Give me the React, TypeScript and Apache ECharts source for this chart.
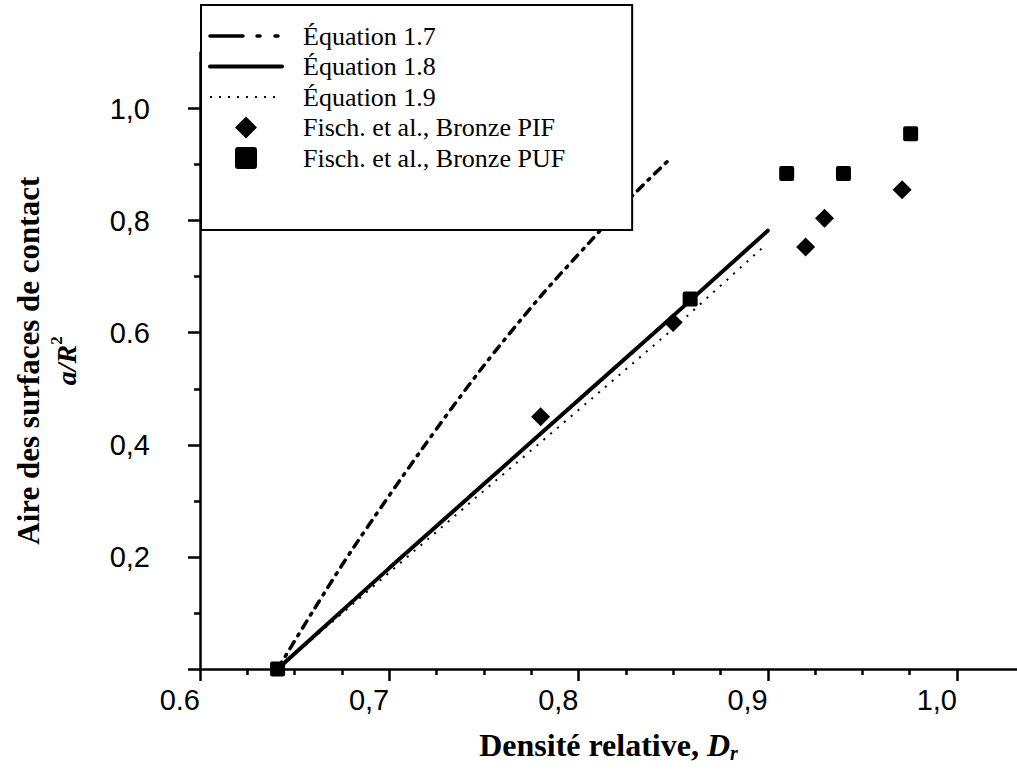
import * as echarts from "echarts";
import { useEffect, useRef } from "react";

// ---- data ----
const X_MIN = 0.6;
const X_MAX = 1.0317;
const Y_MIN = 0;
const Y_MAX = 1.1;
const X_MAJOR = [0.6, 0.7, 0.8, 0.9, 1.0];
const X_MINOR = [0.625, 0.65, 0.675, 0.725, 0.75, 0.775, 0.825, 0.85, 0.875, 0.925, 0.95, 0.975];
const Y_MAJOR = [0, 0.2, 0.4, 0.6, 0.8, 1.0];
const Y_LABELS = [0.2, 0.4, 0.6, 0.8, 1.0];
const Y_MINOR = [0.1, 0.3, 0.5, 0.7, 0.9];

const SERIES_NAMES = [
  "Équation 1.7",
  "Équation 1.8",
  "Équation 1.9",
  "Fisch. et al., Bronze PIF",
  "Fisch. et al., Bronze PUF",
];

const EQ17_DR = [0.641, 0.66, 0.681, 0.717, 0.749, 0.78, 0.806, 0.829, 0.848];
const EQ17_A = [0, 0.105, 0.216, 0.391, 0.537, 0.665, 0.762, 0.846, 0.909];

const EQ18_DR = [0.641, 0.7, 0.75, 0.8, 0.85, 0.9];
const EQ18_A = [0, 0.18, 0.33, 0.48, 0.63, 0.782];

const EQ19_DR = [0.641, 0.7, 0.75, 0.8, 0.85, 0.898];
const EQ19_A = [0, 0.172, 0.318, 0.462, 0.607, 0.754];

const PIF_DR = [0.78, 0.85, 0.92, 0.93, 0.971];
const PIF_A = [0.45, 0.618, 0.753, 0.804, 0.855];

const PUF_DR = [0.641, 0.859, 0.91, 0.94, 0.9755];
const PUF_A = [0, 0.66, 0.884, 0.884, 0.955];

const zip = (xs: number[], ys: number[]) => xs.map((x, i) => [x, ys[i]]);

const DIAMOND = "path://M0,-10L10,0L0,10L-10,0Z";
const SQUARE = "path://M2,0H13Q15,0 15,2V13Q15,15 13,15H2Q0,15 0,13V2Q0,0 2,0Z";

const SERIF = "'Liberation Serif', 'Times New Roman', serif";
const SANS = "'Liberation Sans', Arial, sans-serif";

const fmt = (v: number) => (Math.abs(v - 0.6) < 1e-9 ? "0.6" : v.toFixed(1).replace(".", ","));

const HIDDEN_SYMBOL = { color: "rgba(0,0,0,0)", borderColor: "rgba(0,0,0,0)", borderWidth: 0, opacity: 0 };

function buildOption() {
  const axisLineStyle = { color: "#000", width: 2.5 };
  return {
    animation: false,
    backgroundColor: "#fff",
    grid: {
      left: 200,
      right: 0,
      top: 52.45,
      bottom: 101,
      containLabel: false,
      outerBoundsMode: "none",
    },
    legend: {
      left: 201,
      top: 5,
      orient: "vertical",
      backgroundColor: "#fff",
      borderColor: "#000",
      borderWidth: 2,
      borderRadius: 0,
      padding: [18, 67, 59, 7],
      itemGap: 4.5,
      itemWidth: 72,
      itemHeight: 22,
      selectedMode: false,
      textStyle: {
        fontFamily: SERIF,
        fontSize: 26,
        color: "#000",
        padding: [0, 0, 0, 16],
      },
      data: [
        { name: SERIES_NAMES[0], lineStyle: { type: [33, 14, 3, 15, 3, 10], width: 3.5 }, itemStyle: HIDDEN_SYMBOL },
        { name: SERIES_NAMES[1], lineStyle: { width: 4 }, itemStyle: HIDDEN_SYMBOL },
        { name: SERIES_NAMES[2], lineStyle: { type: [2, 7], width: 2 }, itemStyle: HIDDEN_SYMBOL },
        { name: SERIES_NAMES[3] },
        { name: SERIES_NAMES[4] },
      ],
    },
    xAxis: [
      {
        type: "value",
        min: X_MIN,
        max: X_MAX,
        position: "bottom",
        axisLine: { show: true, onZero: false, lineStyle: axisLineStyle },
        axisTick: {
          show: true,
          inside: false,
          length: 12,
          customValues: X_MAJOR,
          lineStyle: { color: "#000", width: 2.5 },
        },
        axisLabel: {
          customValues: X_MAJOR,
          formatter: fmt,
          align: "right",
          margin: 16,
          fontFamily: SANS,
          fontSize: 29,
          color: "#000",
        },
        splitLine: { show: false },
        name: "{b|Densité relative, }{bi|D}{sub|r}",
        nameLocation: "middle",
        nameGap: 60,
        nameTextStyle: {
          rich: {
            b: { fontFamily: SERIF, fontWeight: "bold", fontSize: 32, color: "#000", lineHeight: 32, verticalAlign: "top" },
            bi: { fontFamily: SERIF, fontWeight: "bold", fontStyle: "italic", fontSize: 32, color: "#000", lineHeight: 32, verticalAlign: "top" },
            sub: { fontFamily: SERIF, fontWeight: "bold", fontStyle: "italic", fontSize: 20, color: "#000", lineHeight: 20, verticalAlign: "top", padding: [14, 0, 0, 0] },
          },
        },
      },
      {
        type: "value",
        min: X_MIN,
        max: X_MAX,
        position: "bottom",
        axisLine: { show: false, onZero: false },
        axisTick: {
          show: true,
          inside: false,
          length: 6,
          customValues: X_MINOR,
          lineStyle: { color: "#000", width: 2.5 },
        },
        axisLabel: { show: false },
        splitLine: { show: false },
      },
    ],
    yAxis: [
      {
        type: "value",
        min: Y_MIN,
        max: Y_MAX,
        position: "left",
        axisLine: { show: true, onZero: false, lineStyle: axisLineStyle },
        axisTick: {
          show: true,
          inside: false,
          length: 12,
          customValues: Y_MAJOR,
          lineStyle: { color: "#000", width: 2.5 },
        },
        axisLabel: {
          customValues: Y_LABELS,
          formatter: fmt,
          margin: 50,
          fontFamily: SANS,
          fontSize: 29,
          color: "#000",
        },
        splitLine: { show: false },
        name: "{t|Aire des surfaces de contact}\n{i|a/R}{sup|2}",
        nameLocation: "middle",
        nameRotate: 90,
        nameGap: 116,
        nameTextStyle: {
          align: "center",
          rich: {
            t: { fontFamily: SERIF, fontWeight: "bold", fontSize: 31, color: "#000", lineHeight: 40, align: "center" },
            i: { fontFamily: SERIF, fontWeight: "bold", fontStyle: "italic", fontSize: 28, color: "#000", lineHeight: 36 },
            sup: { fontFamily: SERIF, fontWeight: "bold", fontSize: 17, color: "#000", lineHeight: 17, verticalAlign: "top" },
          },
        },
      },
      {
        type: "value",
        min: Y_MIN,
        max: Y_MAX,
        position: "left",
        axisLine: { show: false, onZero: false },
        axisTick: {
          show: true,
          inside: false,
          length: 6,
          customValues: Y_MINOR,
          lineStyle: { color: "#000", width: 2.5 },
        },
        axisLabel: { show: false },
        splitLine: { show: false },
      },
    ],
    series: [
      {
        name: SERIES_NAMES[0],
        type: "line",
        xAxisIndex: 0,
        yAxisIndex: 0,
        data: zip(EQ17_DR, EQ17_A),
        smooth: 0.3,
        symbol: "none",
        z: 2,
        lineStyle: { color: "#000", width: 3.5, type: [8, 7, 2, 7], cap: "round" },
        itemStyle: { color: "#000" },
      },
      {
        name: SERIES_NAMES[1],
        type: "line",
        xAxisIndex: 0,
        yAxisIndex: 0,
        data: zip(EQ18_DR, EQ18_A),
        symbol: "none",
        z: 2,
        lineStyle: { color: "#000", width: 4, type: "solid", cap: "round" },
        itemStyle: { color: "#000" },
      },
      {
        name: SERIES_NAMES[2],
        type: "line",
        xAxisIndex: 0,
        yAxisIndex: 0,
        data: zip(EQ19_DR, EQ19_A),
        symbol: "none",
        z: 2,
        lineStyle: { color: "#000", width: 2, type: [2, 7] },
        itemStyle: { color: "#000" },
      },
      {
        name: SERIES_NAMES[3],
        type: "scatter",
        xAxisIndex: 0,
        yAxisIndex: 0,
        data: zip(PIF_DR, PIF_A),
        symbol: DIAMOND,
        symbolSize: 19,
        z: 3,
        itemStyle: { color: "#000", opacity: 1 },
      },
      {
        name: SERIES_NAMES[4],
        type: "scatter",
        xAxisIndex: 0,
        yAxisIndex: 0,
        data: zip(PUF_DR, PUF_A),
        symbol: SQUARE,
        symbolSize: 15,
        z: 3,
        itemStyle: { color: "#000", opacity: 1 },
      },
    ],
  };
}

export default function App() {
  const ref = useRef<HTMLDivElement>(null);
  useEffect(() => {
    if (!ref.current) return;
    const chart = echarts.init(ref.current, null, { renderer: "svg" });
    chart.setOption(buildOption() as any);
    return () => chart.dispose();
  }, []);
  return (
    <div
      ref={ref}
      style={{ position: "absolute", left: 0, top: 0, width: 1017, height: 770, background: "#fff" }}
    />
  );
}
